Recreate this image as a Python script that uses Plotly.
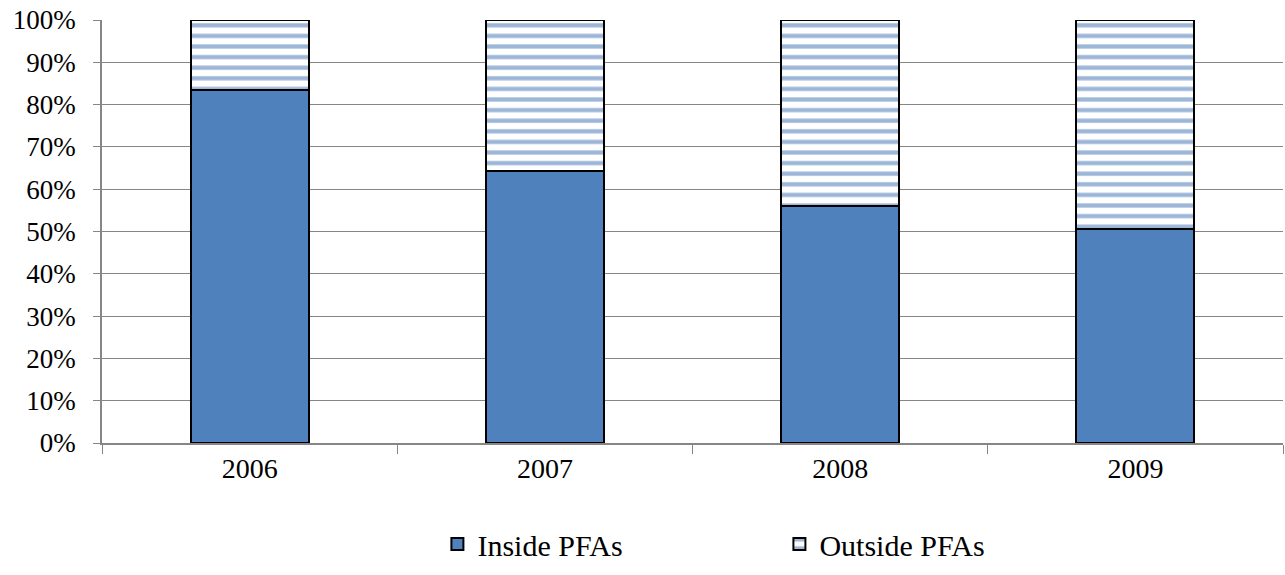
import plotly.graph_objects as go

years = ["2006", "2007", "2008", "2009"]
inside = [83.5, 64.3, 56.0, 50.6]
outside = [100 - v for v in inside]
tick_vals = [0, 10, 20, 30, 40, 50, 60, 70, 80, 90, 100]
tick_text = [f"{v}%" for v in tick_vals]

BLUE = "#4F81BD"
FONT = "Liberation Serif, Times New Roman, serif"
FS = 28

fig = go.Figure()
fig.add_trace(go.Bar(
    x=years, y=inside, name="Inside PFAs",
    marker=dict(color=BLUE, line=dict(color="black", width=2)),
))
fig.add_trace(go.Bar(
    x=years, y=outside, name="Outside PFAs",
    marker=dict(color="white", line=dict(color="black", width=2),
                pattern=dict(shape="-", fgcolor="#3A6DB0", bgcolor="white",
                             size=10.6, solidity=0.4, fillmode="overlay")),
))

fig.update_layout(
    barmode="stack",
    bargap=0.6,
    width=1285, height=575,
    margin=dict(l=102, r=2, t=20, b=132),
    plot_bgcolor="white", paper_bgcolor="white",
    font=dict(family=FONT, size=FS, color="black"),
    showlegend=True,
    legend=dict(orientation="h", traceorder="normal",
                x=0.284, xanchor="left", y=-0.300, yanchor="bottom",
                entrywidth=297, entrywidthmode="pixels",
                font=dict(family=FONT, size=30)),
    xaxis=dict(showline=True, linecolor="#868686", linewidth=1.5,
               ticks="outside", tickson="boundaries", ticklen=9, tickcolor="#868686",
               tickfont=dict(family=FONT, size=FS), showgrid=False),
    yaxis=dict(range=[0, 100], tickvals=tick_vals, ticktext=tick_text,
               showline=True, linecolor="#868686", linewidth=1.5,
               ticks="outside", ticklen=7, tickcolor="#868686",
               ticklabelstandoff=12,
               showgrid=True, gridcolor="#868686", gridwidth=1.2,
               zeroline=False, tickfont=dict(family=FONT, size=27)),
)

fig.write_html("out.html", config={"displayModeBar": False},
               post_script="document.body.style.margin='0';")
